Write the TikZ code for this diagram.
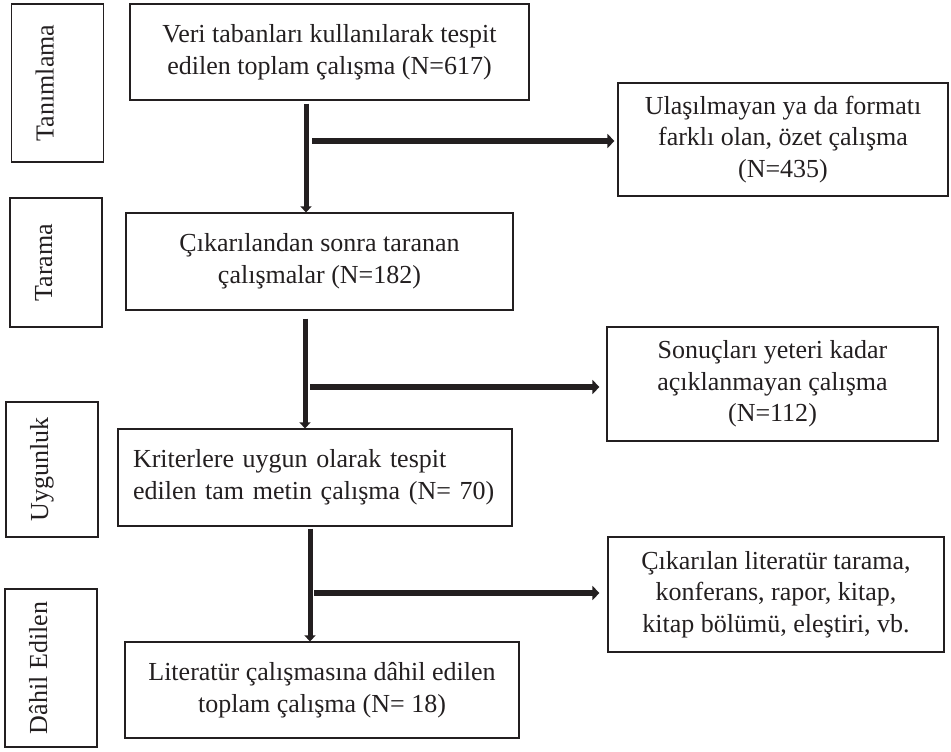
\documentclass[tikz,border=0pt]{standalone}
\usepackage{fontspec}
\setmainfont{Liberation Serif}
\usetikzlibrary{positioning, arrows.meta}
\definecolor{ink}{HTML}{231F20}

\begin{document}
\begin{tikzpicture}[on grid, x=1pt, y=1pt, line width=0.6pt,
    box/.style={rectangle, draw=ink, text=ink, align=center, inner sep=0pt, font=\fontsize{13}{15.8}\selectfont},
    phase/.style={box, rotate=90, text height=21pt, text depth=25pt, minimum height=46pt},
    flow/.style={draw=ink, line width=2.5pt, -{Triangle[width=5.5pt,length=3pt]}},
    branch/.style={draw=ink, line width=3pt, -{Triangle[width=7pt,length=3.5pt]}}]
      \useasboundingbox (0,0) rectangle (475.5,-375.5);

      \node[box, minimum width=199.5pt, minimum height=48pt] (1) at (164.75,-26) {Veri tabanları kullanılarak tespit\\edilen toplam çalışma (N=617)};
      \node[box, minimum width=193.5pt, minimum height=48.5pt, below left=104.75pt and 5pt of 1] (2) {Çıkarılandan sonra taranan\\çalışmalar (N=182)};
      \node[box, minimum width=197pt, minimum height=48.5pt, text width=182pt, inner xsep=7.5pt, align=left, below left=108pt and 2.25pt of 2] (3) {Kriterlere uygun olarak tespit\\edilen tam metin çalışma (N=~70)};
      \node[box, minimum width=197pt, minimum height=48pt, below right=106.25pt and 3.5pt of 3] (4) {Literatür çalışmasına dâhil edilen\\toplam çalışma (N= 18)};

      \node[box, minimum width=165pt, minimum height=56.5pt, below right=43.75pt and 226.75pt of 1] (e1) {Ulaşılmayan ya da formatı\\farklı olan, özet çalışma\\(N=435)};
      \node[box, minimum width=165.5pt, minimum height=57pt, below right=61.25pt and 226.5pt of 2] (e2) {Sonuçları yeteri kadar\\açıklanmayan çalışma\\(N=112)};
      \node[box, minimum width=168pt, minimum height=57.5pt, below right=58.5pt and 230.5pt of 3] (e3) {Çıkarılan literatür tarama,\\konferans, rapor, kitap,\\kitap bölümü, eleştiri, vb.};

      \node[phase, minimum width=79pt, below left=15.5pt and 136pt of 1] (p1) {Tanımlama};
      \node[phase, minimum width=64.5pt, below left=0.5pt and 131.75pt of 2] (p2) {Tarama};
      \node[phase, minimum width=67.5pt, above left=4pt and 131.5pt of 3] (p3) {Uygunluk};
      \node[phase, minimum width=79pt, above left=11pt and 135.5pt of 4] (p4) {Dâhil Edilen};

      \coordinate (j1) at (153,-70.5);
      \coordinate (j2) at (152.5,-193.5);
      \coordinate (j3) at (155,-296.5);

      \draw[flow, shorten <=1.5pt] (j1 |- 1.south) -- (j1 |- 2.north);
      \draw[branch, shorten <=3pt, shorten >=1.5pt] (j1) -- (j1 -| e1.west);
      \draw[flow, shorten <=4pt] (j2 |- 2.south) -- (j2 |- 3.north);
      \draw[branch, shorten <=2.5pt, shorten >=3.5pt] (j2) -- (j2 -| e2.west);
      \draw[flow, shorten <=1pt] (j3 |- 3.south) -- (j3 |- 4.north);
      \draw[branch, shorten <=2pt, shorten >=4pt] (j3) -- (j3 -| e3.west);
\end{tikzpicture}
\end{document}
